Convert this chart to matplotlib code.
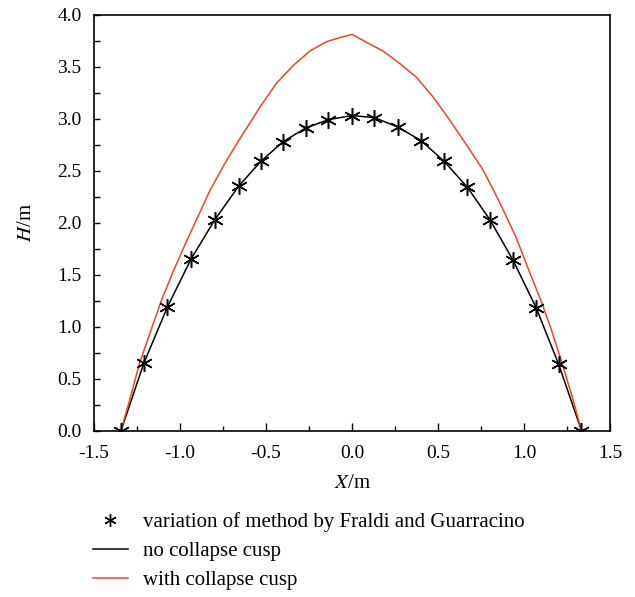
import numpy as np
import matplotlib
matplotlib.use("Agg")
import matplotlib.pyplot as plt
from matplotlib.lines import Line2D
from matplotlib.ticker import MultipleLocator, FormatStrFormatter

plt.rcParams["font.family"] = ["Liberation Serif", "DejaVu Serif"]
plt.rcParams["mathtext.fontset"] = "stix"

# variation of method by Fraldi and Guarracino (markers) / no collapse cusp
x_fg = [-1.343, -1.21, -1.073, -0.936, -0.797, -0.66, -0.53, -0.40, -0.27, -0.14, 0.0,
        0.13, 0.265, 0.40, 0.535, 0.67, 0.80, 0.935, 1.07, 1.20, 1.333]
h_fg = [0.0, 0.65, 1.19, 1.65, 2.03, 2.35, 2.59, 2.78, 2.91, 2.99, 3.03,
        3.01, 2.92, 2.79, 2.59, 2.34, 2.03, 1.64, 1.18, 0.64, 0.0]

# with collapse cusp
x_cusp = [-1.343, -1.29, -1.235, -1.17, -1.111, -1.04, -0.96, -0.89, -0.826, -0.729,
          -0.632, -0.536, -0.44, -0.343, -0.246, -0.149, -0.07, 0.0,
          0.10, 0.18, 0.27, 0.373, 0.47, 0.566, 0.66, 0.76, 0.85, 0.95,
          1.03, 1.10, 1.16, 1.22, 1.28, 1.333]
h_cusp = [0.0, 0.31, 0.65, 0.96, 1.24, 1.53, 1.83, 2.08, 2.31, 2.60,
          2.86, 3.11, 3.34, 3.51, 3.65, 3.74, 3.78, 3.81,
          3.72, 3.65, 3.54, 3.40, 3.21, 2.99, 2.76, 2.51, 2.22, 1.87,
          1.53, 1.24, 0.96, 0.65, 0.32, 0.0]

red = "#EE4526"
star = (6, 2, 0)

fig = plt.figure(figsize=(6.35, 5.97), dpi=100)
ax = fig.add_axes([0.148, 0.2786, 0.813, 0.6968])

ax.plot(x_fg, h_fg, "-", color="black", lw=1.1, zorder=2)
ax.plot(x_fg, h_fg, linestyle="none", marker=star, ms=12, mew=1.1,
        color="black", zorder=3)
ax.plot(x_cusp, h_cusp, "-", color=red, lw=1.1, zorder=2)

ax.set_xlim(-1.5, 1.5)
ax.set_ylim(0, 4.0)
ax.xaxis.set_major_locator(MultipleLocator(0.5))
ax.xaxis.set_minor_locator(MultipleLocator(0.25))
ax.yaxis.set_major_locator(MultipleLocator(0.5))
ax.yaxis.set_minor_locator(MultipleLocator(0.25))
ax.xaxis.set_major_formatter(FormatStrFormatter("%.1f"))
ax.yaxis.set_major_formatter(FormatStrFormatter("%.1f"))
ax.tick_params(which="both", direction="in", top=False, right=False,
               labelsize=14, width=1.0, colors="black")
ax.tick_params(axis="x", which="major", length=6, pad=10)
ax.tick_params(axis="x", which="minor", length=3.5)
ax.tick_params(axis="y", which="both", length=4.3, pad=9)
for s in ax.spines.values():
    s.set_linewidth(1.2)

ax.set_xlabel(r"$\mathit{X}$/m", fontsize=15, labelpad=9)
ax.set_ylabel(r"$\mathit{H}$/m", fontsize=15, labelpad=15)

handles = [
    Line2D([], [], linestyle="none", marker=star, ms=9, mew=1.0, color="black"),
    Line2D([], [], color="black", lw=1.1),
    Line2D([], [], color=red, lw=1.1),
]
labels = ["variation of method by Fraldi and Guarracino",
          "no collapse cusp",
          "with collapse cusp"]
fig.legend(handles, labels, loc="upper left", bbox_to_anchor=(0.146, 0.142),
           frameon=False, fontsize=15, handlelength=1.7, handletextpad=0.72,
           labelspacing=0.45, borderaxespad=0, borderpad=0)

fig.savefig("out.png", dpi=100)
